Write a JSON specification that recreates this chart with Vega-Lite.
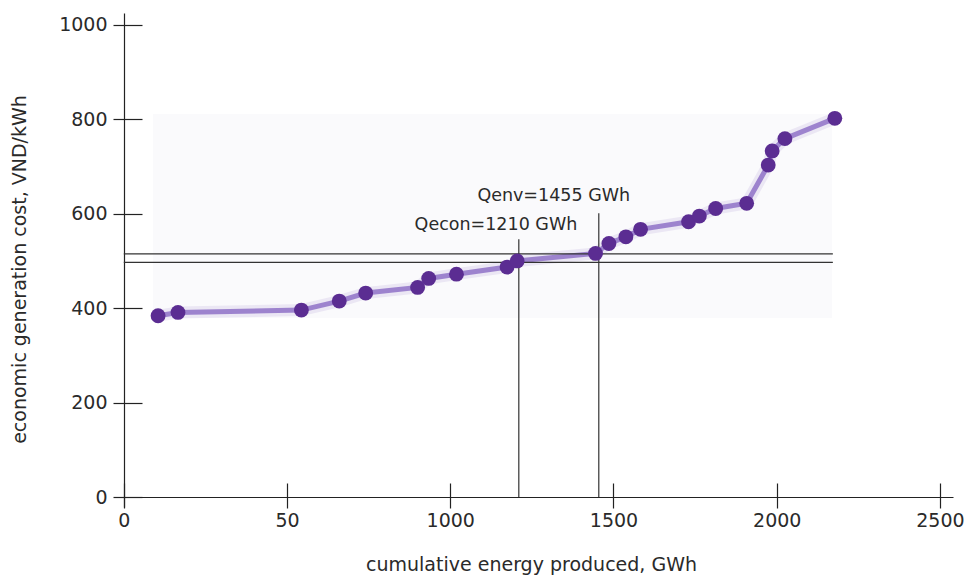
{
  "$schema": "https://vega.github.io/schema/vega-lite/v6.json",
  "width": 839,
  "height": 494,
  "autosize": {"type": "none"},
  "padding": {"left": 114, "top": 13, "right": 13, "bottom": 68},
  "background": "white",
  "config": {
    "view": {"stroke": null},
    "font": "DejaVu Sans",
    "axis": {
      "grid": false,
      "domainColor": "#222222",
      "domainWidth": 1.2,
      "tickColor": "#222222",
      "tickWidth": 1.2,
      "labelFont": "DejaVu Sans",
      "labelFontSize": 19,
      "labelColor": "#2a2a2a",
      "titleFont": "DejaVu Sans",
      "titleFontSize": 19,
      "titleFontWeight": "normal",
      "titleColor": "#2a2a2a"
    }
  },
  "datasets": {
    "pts": [
      {"q": 105, "cost": 384},
      {"q": 166, "cost": 391},
      {"q": 544, "cost": 396},
      {"q": 660, "cost": 415},
      {"q": 741, "cost": 432},
      {"q": 900, "cost": 444},
      {"q": 934, "cost": 463},
      {"q": 1019, "cost": 472},
      {"q": 1174, "cost": 487},
      {"q": 1205, "cost": 500},
      {"q": 1445, "cost": 516},
      {"q": 1486, "cost": 537},
      {"q": 1538, "cost": 551},
      {"q": 1583, "cost": 567},
      {"q": 1730, "cost": 583},
      {"q": 1763, "cost": 595},
      {"q": 1813, "cost": 611},
      {"q": 1908, "cost": 622},
      {"q": 1974, "cost": 703},
      {"q": 1986, "cost": 733},
      {"q": 2025, "cost": 759},
      {"q": 2178, "cost": 802}
    ],
    "hl": [
      {"y": 515, "x0": 0, "x1": 2172},
      {"y": 497, "x0": 0, "x1": 2172}
    ],
    "vl": [
      {"x": 1210, "y0": 0, "y1": 546},
      {"x": 1455, "y0": 0, "y1": 601}
    ],
    "ann": [
      {"x": 1140, "y": 566, "label": "Qecon=1210 GWh"},
      {"x": 1317, "y": 627, "label": "Qenv=1455 GWh"}
    ],
    "bg": [
      {"x0": 89, "x1": 2169, "y0": 379, "y1": 811}
    ]
  },
  "resolve": {"axis": {"x": "independent", "y": "independent"}},
  "layer": [
    {
      "data": {"name": "bg"},
      "mark": {"type": "rect", "color": "#fafafc"},
      "encoding": {
        "x": {"field": "x0", "type": "quantitative",
              "scale": {"domain": [-30, 2540], "nice": false, "zero": false},
              "axis": {"orient": "bottom", "offset": -24, "values": [0, 500, 1000, 1500, 2000, 2500], "tickSize": 14, "domain": false, "labels": false, "title": null}},
        "x2": {"field": "x1"},
        "y": {"field": "y0", "type": "quantitative",
              "scale": {"domain": [-21, 1025], "nice": false, "zero": false},
              "axis": {"orient": "left", "offset": -28, "values": [0, 200, 400, 600, 800, 1000], "tickSize": 18, "domain": false, "labels": false, "title": null}},
        "y2": {"field": "y1"}
      }
    },
    {
      "data": {"name": "pts"},
      "mark": {"type": "line", "color": "#9a80cc", "strokeWidth": 12, "opacity": 0.15},
      "encoding": {
        "x": {"field": "q", "type": "quantitative", "scale": {"domain": [-30, 2540], "nice": false, "zero": false}, "axis": null},
        "y": {"field": "cost", "type": "quantitative", "scale": {"domain": [-21, 1025], "nice": false, "zero": false}, "axis": null}
      }
    },
    {
      "data": {"name": "pts"},
      "mark": {"type": "line", "color": "#8a6ac4", "strokeWidth": 5, "opacity": 0.8},
      "encoding": {
        "x": {"field": "q", "type": "quantitative", "scale": {"domain": [-30, 2540], "nice": false, "zero": false}, "axis": null},
        "y": {"field": "cost", "type": "quantitative", "scale": {"domain": [-21, 1025], "nice": false, "zero": false}, "axis": null}
      }
    },
    {
      "data": {"name": "hl"},
      "mark": {"type": "rule", "color": "#333333", "strokeWidth": 1.2},
      "encoding": {
        "x": {"field": "x0", "type": "quantitative", "scale": {"domain": [-30, 2540], "nice": false, "zero": false}, "axis": null},
        "x2": {"field": "x1"},
        "y": {"field": "y", "type": "quantitative", "scale": {"domain": [-21, 1025], "nice": false, "zero": false}, "axis": null}
      }
    },
    {
      "data": {"name": "vl"},
      "mark": {"type": "rule", "color": "#333333", "strokeWidth": 1.2},
      "encoding": {
        "x": {"field": "x", "type": "quantitative", "scale": {"domain": [-30, 2540], "nice": false, "zero": false}, "axis": null},
        "y": {"field": "y0", "type": "quantitative", "scale": {"domain": [-21, 1025], "nice": false, "zero": false}, "axis": null},
        "y2": {"field": "y1"}
      }
    },
    {
      "data": {"name": "ann"},
      "mark": {"type": "text", "font": "DejaVu Sans", "fontSize": 17.5, "color": "#2a2a2a", "align": "center", "baseline": "alphabetic"},
      "encoding": {
        "x": {"field": "x", "type": "quantitative", "scale": {"domain": [-30, 2540], "nice": false, "zero": false}, "axis": null},
        "y": {"field": "y", "type": "quantitative", "scale": {"domain": [-21, 1025], "nice": false, "zero": false}, "axis": null},
        "text": {"field": "label", "type": "nominal"}
      }
    },
    {
      "data": {"name": "pts"},
      "mark": {"type": "circle", "color": "#5b2d92", "opacity": 1, "size": 220},
      "encoding": {
        "x": {"field": "q", "type": "quantitative",
              "scale": {"domain": [-30, 2540], "nice": false, "zero": false},
              "axis": {"orient": "bottom", "offset": -10, "values": [0, 500, 1000, 1500, 2000, 2500], "tickSize": 11, "labelPadding": 3, "format": "d",
                       "labelExpr": "datum.value == 500 ? '50' : datum.label",
                       "title": "cumulative energy produced, GWh", "titleX": 417, "titleY": 73, "titleBaseline": "alphabetic", "titleAnchor": "middle"}},
        "y": {"field": "cost", "type": "quantitative",
              "scale": {"domain": [-21, 1025], "nice": false, "zero": false},
              "axis": {"orient": "left", "offset": -10, "values": [0, 200, 400, 600, 800, 1000], "tickSize": 11, "labelPadding": 6, "format": "d",
                       "title": "economic generation cost, VND/kWh", "titleX": -99, "titleY": 256, "titleAngle": 270, "titleBaseline": "alphabetic", "titleAnchor": "middle"}}
      }
    }
  ]
}
